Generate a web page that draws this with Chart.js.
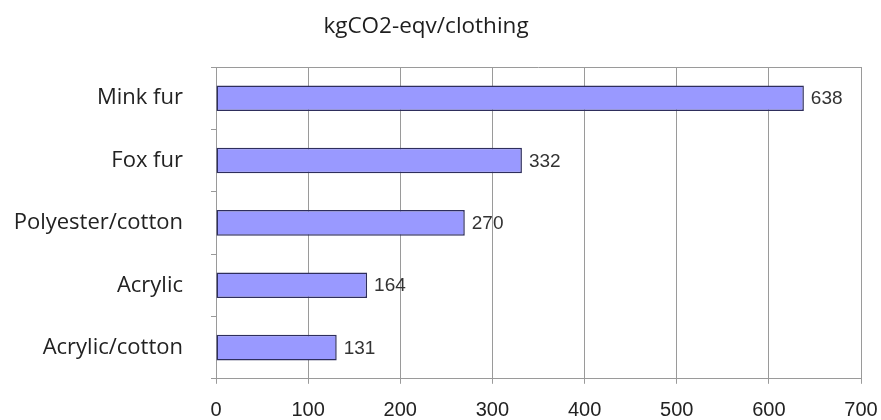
<!DOCTYPE html>
<html>
<head>
<meta charset="utf-8">
<title>kgCO2-eqv/clothing</title>
<script src="https://cdn.jsdelivr.net/npm/chart.js@4.4.1/dist/chart.umd.min.js"></script>
<style>
    html, body { margin: 0; padding: 0; background: #fff; }
    #wrap { width: 881px; height: 420px; position: relative; }
</style>
</head>
<body>
<div id="wrap"><canvas id="co2Chart"></canvas></div>
<script>
const chartTitle = 'kgCO2-eqv/clothing';
const materials = ['Mink fur', 'Fox fur', 'Polyester/cotton', 'Acrylic', 'Acrylic/cotton'];
const emissions = [638, 332, 270, 164, 131];
const xTicks = [0, 100, 200, 300, 400, 500, 600, 700];

const gridGrey = '#9a9a9a';

// title sits a bit left of the page centre, like the original layout
const titlePlugin = {
    id: 'titleText',
    afterDraw(chart) {
        const ctx = chart.ctx;
        ctx.save();
        ctx.font = '22.5px "Open Sans"';
        ctx.fillStyle = '#1e1e1e';
        ctx.textAlign = 'center';
        ctx.textBaseline = 'middle';
        ctx.fillText(chartTitle, 426, 27);
        ctx.restore();
    }
};

// grey line along the top of the plot area
const framePlugin = {
    id: 'frame',
    beforeDatasetsDraw(chart) {
        const { ctx, chartArea } = chart;
        ctx.save();
        ctx.strokeStyle = gridGrey;
        ctx.lineWidth = 1;
        ctx.beginPath();
        ctx.moveTo(chartArea.left, chartArea.top + 0.5);
        ctx.lineTo(chartArea.right, chartArea.top + 0.5);
        ctx.stroke();
        ctx.restore();
    }
};

// value printed just right of each bar end
const valuePlugin = {
    id: 'barValues',
    afterDatasetsDraw(chart) {
        const ctx = chart.ctx;
        const meta = chart.getDatasetMeta(0);
        ctx.save();
        ctx.font = '19px "Liberation Sans", Arial, sans-serif';
        ctx.fillStyle = '#333';
        ctx.textAlign = 'left';
        ctx.textBaseline = 'middle';
        meta.data.forEach((bar, i) => {
            ctx.fillText(String(emissions[i]), bar.x + 7, bar.y + 1);
        });
        ctx.restore();
    }
};

const ctx = document.getElementById('co2Chart').getContext('2d');
new Chart(ctx, {
    type: 'bar',
    data: {
        labels: materials,
        datasets: [{
            data: emissions,
            backgroundColor: '#9999ff',
            borderColor: '#2e2e5c',
            borderWidth: 1.5,
            borderSkipped: false,
            categoryPercentage: 1,
            barPercentage: 0.41
        }]
    },
    options: {
        indexAxis: 'y',
        responsive: true,
        maintainAspectRatio: false,
        animation: false,
        layout: { padding: { top: 67, right: 0, left: 0, bottom: 0 } },
        plugins: {
            legend: { display: false },
            tooltip: { enabled: false },
            title: { display: false }
        },
        scales: {
            x: {
                min: 0,
                max: 700,
                afterBuildTicks: (scale) => {
                    scale.ticks = xTicks.map(v => ({ value: v }));
                },
                afterFit: (scale) => {
                    scale.height = 41;
                    // leave just enough room on the right for the "700" label
                    scale.paddingRight = 20;
                },
                grid: {
                    color: gridGrey,
                    tickLength: 5,
                    drawTicks: true
                },
                border: { color: gridGrey, width: 1 },
                ticks: {
                    color: '#222',
                    padding: 15,
                    font: { family: '"Liberation Sans", Arial, sans-serif', size: 20 }
                }
            },
            y: {
                afterFit: (scale) => { scale.width = 216; },
                grid: {
                    offset: true,
                    drawOnChartArea: false,
                    drawTicks: true,
                    tickLength: 5,
                    color: gridGrey
                },
                border: { color: gridGrey, width: 1 },
                ticks: {
                    color: '#222',
                    padding: 28,
                    font: { family: '"Open Sans", sans-serif', size: 22 }
                }
            }
        }
    },
    plugins: [titlePlugin, framePlugin, valuePlugin]
});
</script>
</body>
</html>
